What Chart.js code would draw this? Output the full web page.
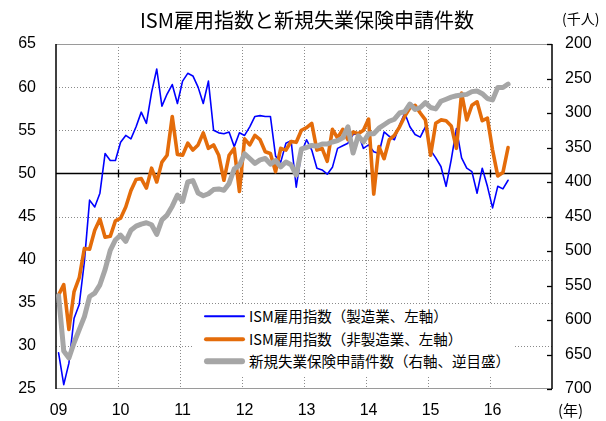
<!DOCTYPE html>
<html>
<head>
<meta charset="utf-8">
<script src="https://cdn.jsdelivr.net/npm/chart.js@4/dist/chart.umd.min.js"></script>
<style>
html,body{margin:0;padding:0;background:#fff;}
#wrap{position:relative;width:606px;height:421px;overflow:hidden;background:#fff;}
#c{position:absolute;left:0;top:0;}
.txt{position:absolute;white-space:nowrap;color:#000;font-family:"Noto Sans CJK JP","Liberation Sans",sans-serif;}
#title{left:4px;width:606px;top:7px;text-align:center;font-size:20px;line-height:26px;}
#unitL{left:562px;top:8px;font-size:14px;line-height:20px;}
#unitX{left:558px;top:400px;font-size:15px;line-height:20px;}
#legend{position:absolute;left:194px;top:304px;width:321px;height:71px;background:#fff;}
.row{position:absolute;left:0;height:22px;width:321px;}
.sw{position:absolute;left:10px;width:41px;top:50%;transform:translateY(-50%);border-radius:3px;}
.lt{position:absolute;left:55px;top:0;line-height:22px;font-size:14.5px;white-space:nowrap;font-family:"Noto Sans CJK JP",sans-serif;color:#000;}
</style>
</head>
<body>
<div id="wrap">
<canvas id="c" width="606" height="421" style="width:606px;height:421px;"></canvas>
<div class="txt" id="title">ISM雇用指数と新規失業保険申請件数</div>
<div class="txt" id="unitL">(千人)</div>
<div class="txt" id="unitX">(年)</div>
<div id="legend"></div>
</div>
<script>
// ---- data (monthly, Jan 2009 – Apr 2016) ----
const years = ['09','10','11','12','13','14','15','16'];
const seriesNames = ['ISM雇用指数（製造業、左軸）','ISM雇用指数（非製造業、左軸）','新規失業保険申請件数（右軸、逆目盛）'];
const ismManufacturing = [
 29.2,25.5,28.0,33.2,34.8,39.8,46.9,46.1,47.7,52.3,51.5,51.5,
 53.6,54.4,54.0,55.4,57.1,55.8,59.4,62.1,57.8,59.2,60.3,58.1,
 60.7,61.6,61.3,60.0,58.1,60.7,55.0,54.7,54.6,54.8,53.1,54.7,
 54.4,55.4,56.6,56.7,56.6,56.6,52.0,51.3,53.5,53.8,48.4,52.4,
 53.9,52.7,50.6,50.4,49.9,50.7,52.9,53.2,53.5,54.5,54.6,52.9,
 53.3,52.5,52.3,54.8,54.3,53.9,55.6,57.0,55.4,54.5,54.2,55.4,
 52.7,51.8,50.8,48.5,51.6,55.2,51.8,50.6,50.2,47.7,50.6,48.5,
 46.0,48.5,48.2,49.2];
const ismNonManufacturing = [
 35.9,37.1,31.9,36.3,37.9,41.3,41.2,43.4,44.7,42.6,42.7,44.5,
 44.8,46.1,48.0,49.3,49.4,48.3,50.6,49.0,51.3,52.1,56.6,52.2,
 52.1,53.5,52.7,53.3,54.7,52.9,53.3,52.1,49.2,52.1,52.9,47.9,
 54.0,53.3,54.4,53.9,52.5,52.3,50.2,52.9,52.7,53.7,53.6,55.0,
 55.3,55.8,52.7,52.9,51.4,55.1,54.1,55.1,53.9,54.8,54.6,55.0,
 56.3,47.6,53.1,51.7,53.9,54.4,55.4,56.6,57.6,57.9,57.0,56.2,
 52.1,55.8,56.2,56.1,55.5,52.9,59.3,56.2,57.9,58.3,56.1,56.4,
 52.7,49.7,50.1,53.0];
const joblessClaims = [
 565,645,655,633,614,595,566,561,549,527,499,484,
 477,486,470,464,461,459,462,476,455,448,435,419,
 428,400,398,416,420,417,411,410,412,402,381,376,
 359,366,373,368,366,374,369,378,371,375,390,352,
 350,347,348,345,345,342,340,336,320,358,333,342,
 330,330,322,317,312,309,300,298,287,295,292,285,
 292,294,283,280,277,275,274,273,269,268,272,279,
 281,263,263,258];
const leftTicks = {min:25, max:65, step:5};
const rightTicks = {min:200, max:700, step:50};

// month categories built from the year labels
const months = [];
years.forEach(y => { for (let m = 1; m <= 12; m++) months.push(y + '-' + m); });

const GRID = '#8a8a8a';
const axesPlugin = {
  id: 'excelAxes',
  beforeDatasetsDraw(chart) {
    const {ctx, chartArea: a, scales} = chart;
    const yl = scales.y, yr = scales.y2, x = scales.x;
    ctx.save();
    ctx.strokeStyle = GRID; ctx.lineWidth = 1; ctx.setLineDash([1, 2]);
    for (let v = leftTicks.min + leftTicks.step; v < leftTicks.max; v += leftTicks.step) {
      if (v === 50) continue;
      const py = Math.round(yl.getPixelForValue(v)) + 0.5;
      ctx.beginPath(); ctx.moveTo(a.left, py); ctx.lineTo(a.right, py); ctx.stroke();
    }
    const yb = [];
    for (let k = 1; k < years.length; k++) {
      const px = Math.round((x.getPixelForValue(12 * k - 1) + x.getPixelForValue(12 * k)) / 2) + 0.5;
      yb.push(px);
      ctx.beginPath(); ctx.moveTo(px, a.top); ctx.lineTo(px, a.bottom); ctx.stroke();
    }
    ctx.setLineDash([]);
    ctx.strokeStyle = '#9a9a9a'; ctx.lineWidth = 1.2;
    ctx.beginPath(); ctx.moveTo(a.left, a.top + 0.5); ctx.lineTo(a.right, a.top + 0.5); ctx.stroke();
    ctx.beginPath(); ctx.moveTo(a.left, a.bottom - 0.5); ctx.lineTo(a.right, a.bottom - 0.5); ctx.stroke();
    ctx.strokeStyle = '#000'; ctx.lineWidth = 1.5;
    ctx.beginPath(); ctx.moveTo(a.left, a.top); ctx.lineTo(a.left, a.bottom); ctx.stroke();
    ctx.beginPath(); ctx.moveTo(a.right, a.top); ctx.lineTo(a.right, a.bottom); ctx.stroke();
    ctx.lineWidth = 1.3;
    for (let v = rightTicks.min; v <= rightTicks.max; v += rightTicks.step) {
      const py = Math.round(yr.getPixelForValue(v)) + 0.5;
      ctx.beginPath(); ctx.moveTo(a.right - 5, py); ctx.lineTo(a.right, py); ctx.stroke();
    }
    const y50 = Math.round(yl.getPixelForValue(50)) + 0.5;
    ctx.lineWidth = 1.6;
    ctx.beginPath(); ctx.moveTo(a.left, y50); ctx.lineTo(a.right, y50); ctx.stroke();
    ctx.lineWidth = 1.3;
    yb.forEach(px => { ctx.beginPath(); ctx.moveTo(px, y50 - 4); ctx.lineTo(px, y50 + 4); ctx.stroke(); });
    ctx.restore();
  }
};

Chart.defaults.font.family = '"Liberation Sans", Arial, sans-serif';
Chart.defaults.font.size = 16;
Chart.defaults.color = '#000';

const chart = new Chart(document.getElementById('c'), {
  type: 'line',
  data: {
    labels: months,
    datasets: [
      {label: seriesNames[0], data: ismManufacturing, yAxisID: 'y', borderColor: '#0000ff', borderWidth: 1.6, order: 2},
      {label: seriesNames[1], data: ismNonManufacturing, yAxisID: 'y', borderColor: '#e46c0a', borderWidth: 3.6, order: 1},
      {label: seriesNames[2], data: joblessClaims, yAxisID: 'y2', borderColor: '#a6a6a6', borderWidth: 5, order: 0}
    ]
  },
  options: {
    responsive: false,
    animation: false,
    devicePixelRatio: 1,
    layout: {padding: {top: 44, left: 0, right: 0, bottom: 0}},
    elements: {point: {radius: 0}, line: {tension: 0, borderJoinStyle: 'round', borderCapStyle: 'round', fill: false}},
    plugins: {legend: {display: false}, title: {display: false}, tooltip: {enabled: false}},
    scales: {
      x: {
        type: 'category', offset: true,
        grid: {display: false, drawTicks: false}, border: {display: false},
        ticks: {autoSkip: false, maxRotation: 0, minRotation: 0, padding: 12,
          callback: (v, i) => (i % 12 === 0 ? years[i / 12] : '')},
        afterFit(s) { s.height = 32; }
      },
      y: {
        position: 'left', min: leftTicks.min, max: leftTicks.max,
        grid: {display: false, drawTicks: false}, border: {display: false},
        ticks: {stepSize: leftTicks.step, padding: 20},
        afterFit(s) { s.width = 56; }
      },
      y2: {
        position: 'right', reverse: true, min: rightTicks.min, max: rightTicks.max,
        grid: {display: false, drawTicks: false}, border: {display: false},
        ticks: {stepSize: rightTicks.step, padding: 13},
        afterFit(s) { s.width = 54; }
      }
    }
  },
  plugins: [axesPlugin]
});

const lg = document.getElementById('legend');
const rowTop = [1, 24, 46];
const swH = [1.6, 3.6, 5.5];
chart.data.datasets.forEach((d, i) => {
  const r = document.createElement('div'); r.className = 'row'; r.style.top = rowTop[i] + 'px';
  const s = document.createElement('span'); s.className = 'sw';
  s.style.height = swH[i] + 'px'; s.style.background = d.borderColor;
  const t = document.createElement('span'); t.className = 'lt'; t.textContent = d.label;
  r.appendChild(s); r.appendChild(t); lg.appendChild(r);
});
</script>
</body>
</html>
